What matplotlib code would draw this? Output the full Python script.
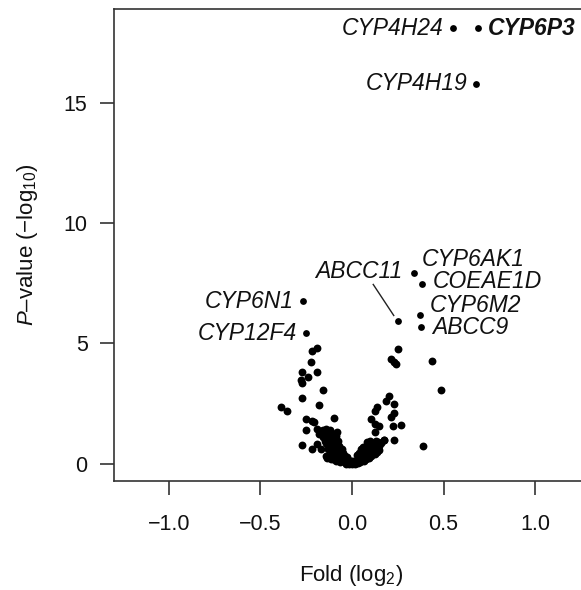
import matplotlib
matplotlib.use("Agg")
import matplotlib.pyplot as plt

# labelled genes: fold (log2) and -log10 P
genes = ["CYP6P3", "CYP4H24", "CYP4H19", "CYP6AK1", "COEAE1D", "CYP6M2",
         "ABCC9", "ABCC11", "CYP6N1", "CYP12F4"]
gene_fold = [0.686, 0.553, 0.68, 0.34, 0.38, 0.37, 0.376, 0.252, -0.27, -0.25]
gene_p = [18.1, 18.1, 15.8, 7.94, 7.45, 6.2, 5.69, 5.94, 6.75, 5.42]

# the rest of the genes
fold = [
    # right side, outer
    0.437, 0.488, 0.387, 0.25, 0.214, 0.232, 0.238, 0.2, 0.187, 0.232,
    0.136, 0.128, 0.232, 0.214, 0.224, 0.265, 0.104, 0.123, 0.147, 0.123,
    0.174, 0.227, 0.177,
    # left side, outer
    -0.19, -0.22, -0.225, -0.275, -0.24, -0.192, -0.276, -0.275, -0.161, -0.271,
    -0.18, -0.386, -0.353, -0.253, -0.216, -0.207, -0.097, -0.253, -0.271, -0.216,
    -0.192, -0.137,
    # dense cluster, left half
    -0.19, -0.17, -0.16, -0.15, -0.14, -0.13, -0.12, -0.11, -0.10, -0.09,
    -0.08, -0.15, -0.14, -0.13, -0.12, -0.11, -0.10, -0.09, -0.08, -0.07,
    -0.07, -0.06, -0.06, -0.05, -0.05, -0.04, -0.04, -0.03, -0.03, -0.02,
    -0.02, -0.01, -0.01, 0.0, 0.0, -0.12, -0.11, -0.10, -0.09, -0.08,
    -0.07, -0.06, -0.05, -0.04, -0.13, -0.16, -0.18, -0.09, -0.17, -0.14,
    -0.115, -0.085, -0.065, -0.035,
    -0.105, -0.095, -0.075, -0.055, -0.045, -0.025, -0.015, -0.125, -0.135, -0.145,
    -0.155, -0.105, -0.085, -0.065, -0.025, -0.005,
    # dense cluster, right half
    0.01, 0.02, 0.02, 0.03, 0.03, 0.04, 0.04, 0.05, 0.05, 0.06,
    0.06, 0.07, 0.07, 0.08, 0.08, 0.09, 0.09, 0.10, 0.10, 0.11,
    0.11, 0.12, 0.12, 0.13, 0.13, 0.14, 0.15, 0.08, 0.10, 0.06,
    0.05, 0.04, 0.015, 0.035, 0.065, 0.095, 0.125, 0.145,
    0.005, 0.025, 0.045, 0.055, 0.075, 0.085, 0.105, 0.115, 0.135, 0.16,
]
pval = [
    4.25, 3.05, 0.73, 4.78, 4.36, 4.22, 4.15, 2.83, 2.6, 2.49,
    2.35, 2.2, 2.1, 1.93, 1.58, 1.62, 1.86, 1.65, 1.58, 1.3,
    0.99, 0.99, 1.0,
    4.82, 4.68, 4.22, 3.8, 3.62, 3.8, 3.46, 3.36, 3.07, 2.74,
    2.42, 2.35, 2.2, 1.86, 1.76, 1.72, 1.9, 1.38, 0.79, 0.61,
    0.82, 0.22,
    1.45, 1.35, 1.42, 1.2, 1.45, 1.3, 1.38, 1.1, 1.25, 1.0,
    1.3, 0.95, 0.85, 1.0, 0.75, 0.9, 0.7, 0.8, 0.6, 0.72,
    0.5, 0.55, 0.38, 0.45, 0.3, 0.32, 0.2, 0.22, 0.12, 0.15,
    0.06, 0.08, 0.02, 0.03, 0.0, 0.55, 0.4, 0.3, 0.45, 0.35,
    0.25, 0.15, 0.1, 0.05, 0.6, 1.1, 1.25, 1.15, 0.6, 0.3,
    0.2, 0.12, 0.05, 0.0,
    1.05, 0.6, 0.95, 0.62, 0.2, 0.05, 0.0, 1.2, 0.8, 1.1,
    1.3, 0.18, 0.22, 0.4, 0.28, 0.1,
    0.05, 0.1, 0.03, 0.15, 0.06, 0.2, 0.1, 0.28, 0.15, 0.35,
    0.2, 0.45, 0.28, 0.55, 0.35, 0.6, 0.4, 0.72, 0.5, 0.8,
    0.58, 0.85, 0.65, 0.95, 0.7, 0.9, 0.75, 0.9, 0.95, 0.7,
    0.6, 0.45, 0.0, 0.02, 0.1, 0.25, 0.4, 0.55,
    0.12, 0.35, 0.05, 0.4, 0.18, 0.78, 0.3, 0.45, 0.5, 0.85,
]

plt.rcParams['font.family'] = ['Liberation Sans', 'DejaVu Sans']
plt.rcParams['mathtext.fontset'] = 'custom'
plt.rcParams['mathtext.rm'] = 'Liberation Sans'
plt.rcParams['mathtext.it'] = 'Liberation Sans:italic'

fig = plt.figure(figsize=(5.81, 5.90), dpi=100)
# axes box runs past the right edge of the picture, like the original crop
ax = fig.add_axes([114 / 581, 1 - 481 / 590, 476 / 581, 472 / 590])

ax.scatter(fold, pval, s=32, color='black', linewidths=0, zorder=3)
ax.scatter(gene_fold, gene_p, s=24, color='black', linewidths=0, zorder=3)

# where each gene name sits
label_pos = {
    "CYP6P3": (0.74, 18.1, 'left'),
    "CYP4H24": (0.50, 18.1, 'right'),
    "CYP4H19": (0.63, 15.8, 'right'),
    "CYP6AK1": (0.38, 8.5, 'left'),
    "COEAE1D": (0.44, 7.56, 'left'),
    "CYP6M2": (0.427, 6.56, 'left'),
    "ABCC9": (0.435, 5.66, 'left'),
    "ABCC11": (0.273, 8.0, 'right'),
    "CYP6N1": (-0.32, 6.75, 'right'),
    "CYP12F4": (-0.30, 5.42, 'right'),
}
for g in genes:
    tx, ty, ha = label_pos[g]
    ax.text(tx, ty, g, ha=ha, va='center', fontsize=16.5, style='italic',
            fontweight='bold' if g == "CYP6P3" else 'normal', color='#111111')

# leader line for ABCC11
ax.plot([0.116, 0.228], [7.45, 6.16], color='#222222', lw=1.0)

ax.set_xlim(-1.3, 1.3)
ax.set_ylim(-0.72, 18.9)
ax.set_xticks([-1.0, -0.5, 0.0, 0.5, 1.0])
ax.set_xticklabels(["\u22121.0", "\u22120.5", "0.0", "0.5", "1.0"])
ax.set_yticks([0, 5, 10, 15])

for side in ['left', 'top', 'bottom', 'right']:
    ax.spines[side].set_color('#333333')
    ax.spines[side].set_linewidth(1.2)

ax.tick_params(axis='both', direction='out', length=10, width=1.2,
               color='#333333', labelsize=15.5, labelcolor='#111111')
ax.tick_params(axis='x', pad=14)
ax.tick_params(axis='y', pad=9)

fig.text(351 / 581, 1 - 576 / 590, r"Fold (log$_2$)", ha='center', va='center',
         fontsize=16, color='#111111')
fig.text(28 / 581, 1 - 245 / 590, r"$\it{P}$–value (−log$_{10}$)", ha='center',
         va='center', rotation=90, fontsize=16, color='#111111')

fig.savefig("out.png", dpi=100)
